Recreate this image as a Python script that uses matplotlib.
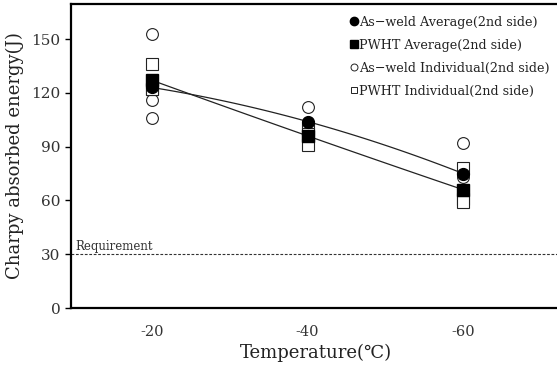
import matplotlib.pyplot as plt
import numpy as np

plt.rcParams['font.family'] = ['DejaVu Serif']

temps = [-20, -40, -60]
asweld_avg = [123, 104, 75]
pwht_avg = [127, 96, 66]
asweld_ind = [[153, 116, 106], [112, 100, 100], [92, 73, 60]]
pwht_ind = [[136, 122, 122], [100, 97, 91], [78, 61, 59]]
requirement = 30
yticks = [0, 30, 60, 90, 120, 150]

fig = plt.figure(figsize=(5.57, 3.72), dpi=100)
ax = fig.add_axes([0.1275, 0.172, 0.88, 0.817])

# smooth trend lines through the averages
xs = np.linspace(-20, -60, 100)
for avg in (asweld_avg, pwht_avg):
    c = np.polyfit(temps, avg, 2)
    ax.plot(xs, np.polyval(c, xs), color='#222222', lw=0.9, zorder=2)

ax.axhline(requirement, color='#333333', lw=0.8, ls=(0, (2.5, 1.5)), zorder=1)
ax.text(-10.2, requirement + 0.8, 'Requirement', fontsize=8.5, color='#333333',
        va='bottom', ha='left')

ms = 8.5
for t, a, p in zip(temps, asweld_ind, pwht_ind):
    ax.plot([t] * len(a), a, 'o', ms=ms, mfc='white', mec='#222222', mew=0.8,
            zorder=3, ls='none')
    ax.plot([t] * len(p), p, 's', ms=ms, mfc='white', mec='#222222', mew=0.8,
            zorder=3, ls='none')
ax.plot(temps, asweld_avg, 'o', ms=ms, color='black', ls='none', zorder=4)
ax.plot(temps, pwht_avg, 's', ms=ms, color='black', ls='none', zorder=4)

# legend built from proxies
h1, = ax.plot([], [], 'o', ms=6, color='black', ls='none')
h2, = ax.plot([], [], 's', ms=6, color='black', ls='none')
h3, = ax.plot([], [], 'o', ms=5, mfc='white', mec='#222222', mew=0.7, ls='none')
h4, = ax.plot([], [], 's', ms=5, mfc='white', mec='#222222', mew=0.7, ls='none')
leg = ax.legend([h1, h2, h3, h4],
                ['As\u2212weld Average(2nd side)', 'PWHT Average(2nd side)',
                 'As\u2212weld Individual(2nd side)', 'PWHT Individual(2nd side)'],
                loc='upper left', bbox_to_anchor=(0.562, 0.978), frameon=False,
                fontsize=9.2, handlelength=0.4, handletextpad=0.15,
                labelspacing=0.78, borderaxespad=0)
for txt in leg.get_texts():
    txt.set_color('#222222')

ax.set_xlim(-9.6, -72.6)
ax.set_ylim(0, 169.5)
ax.set_xticks(temps)
ax.set_xticklabels([str(t) for t in temps])
ax.set_yticks(yticks)
ax.tick_params(axis='x', length=0, pad=12, labelsize=10.5, labelcolor='#333333')
ax.tick_params(axis='y', direction='out', length=4, width=1, labelsize=11,
               labelcolor='#333333')
for s in ('left', 'bottom', 'top'):
    ax.spines[s].set_linewidth(1.6)
ax.spines['right'].set_visible(False)

ax.set_ylabel('Charpy absorbed energy(J)', fontsize=13, color='#222222', labelpad=5)
ax.set_xlabel('Temperature(\u2103)', fontsize=13, color='#222222', labelpad=4)

fig.savefig('out.png', dpi=100)
